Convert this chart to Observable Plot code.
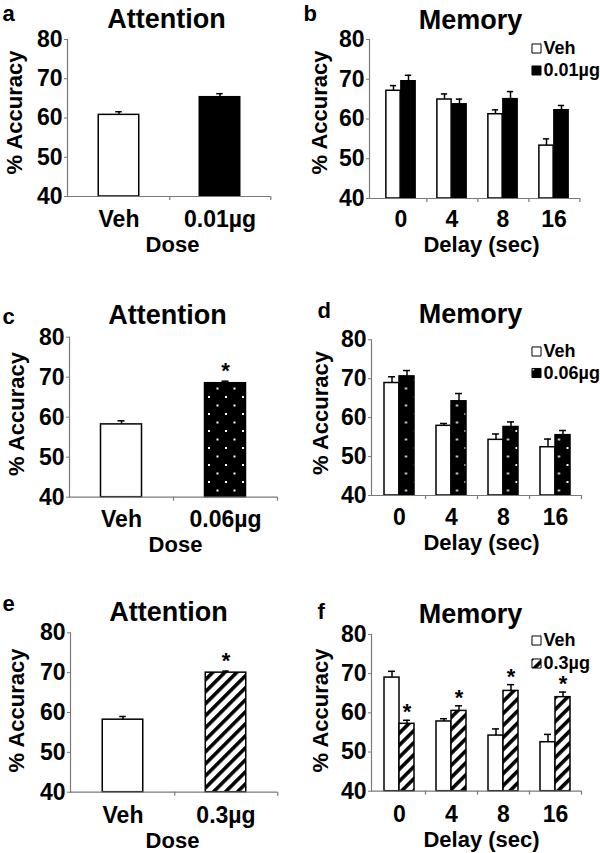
<!DOCTYPE html>
<html><head><meta charset="utf-8">
<script src="https://cdn.jsdelivr.net/npm/d3@7"></script>
<script src="https://cdn.jsdelivr.net/npm/@observablehq/plot@0.6"></script>
<style>
html,body{margin:0;padding:0;background:#fff;}
#fig{position:relative;width:600px;height:853px;overflow:hidden;background:#fff;}
</style></head><body>
<svg width="0" height="0" style="position:absolute">
<defs>
<pattern id="dots" patternUnits="userSpaceOnUse" width="17" height="17">
 <rect width="17" height="17" fill="#000"/>
 <rect x="4" y="4" width="2" height="2" fill="#fff"/>
 <rect x="12.5" y="12.5" width="2" height="2" fill="#fff"/>
</pattern>
<pattern id="hatch" patternUnits="userSpaceOnUse" width="8.5" height="8.5" patternTransform="rotate(45)">
 <rect width="8.5" height="8.5" fill="#fff"/>
 <rect width="3.6" height="8.5" fill="#000"/>
</pattern>
</defs></svg>
<div id="fig"></div>
<script>
// ---------- data ----------
const yDomain = [40, 80];
const yTicks = [40, 50, 60, 70, 80];
const delays = ["0", "4", "8", "16"];

// a: Attention, 0.01µg
const aDoseLabels = ["Veh", "0.01µg"];
const aMeans = [60.8, 65.3];
const aSEM = [0.8, 0.9];
const aSig = [false, false];
// b: Memory, 0.01µg
const bVehMeans = [67.1, 64.9, 61.2, 53.3];
const bVehSEM = [1.3, 1.4, 1.1, 1.7];
const bDoseMeans = [69.5, 63.7, 65.0, 62.2];
const bDoseSEM = [1.5, 1.3, 1.9, 1.2];
const bDoseSig = [false, false, false, false];
// c: Attention, 0.06µg
const cDoseLabels = ["Veh", "0.06µg"];
const cMeans = [58.2, 68.5];
const cSEM = [0.9, 0.5];
const cSig = [false, true];
// d: Memory, 0.06µg
const dVehMeans = [68.9, 57.9, 54.3, 52.4];
const dVehSEM = [1.6, 0.6, 1.5, 2.1];
const dDoseMeans = [70.6, 64.2, 57.6, 55.5];
const dDoseSEM = [1.5, 2.0, 1.3, 1.2];
const dDoseSig = [false, false, false, false];
// e: Attention, 0.3µg
const eDoseLabels = ["Veh", "0.3µg"];
const eMeans = [58.2, 70.0];
const eSEM = [0.8, 0.4];
const eSig = [false, true];
// f: Memory, 0.3µg
const fVehMeans = [69.0, 57.8, 54.2, 52.5];
const fVehSEM = [1.6, 0.7, 1.7, 2.0];
const fDoseMeans = [57.2, 60.5, 65.6, 64.0];
const fDoseSEM = [0.9, 1.3, 1.6, 1.3];
const fDoseSig = [true, true, true, true];

// ---------- layout / style ----------
const FONT = "'Liberation Sans', Arial, Helvetica, sans-serif";
const AXIS = "#7a7a7a";
const TICKFONT = 23;
const fig = document.getElementById("fig");

function place(L, text, x, y, opts = {}) {
  return Plot.text([text], {
    text: d => d, frameAnchor: "top-left",
    dx: x - L.ml, dy: y - L.mt,
    lineAnchor: "bottom", fill: "black", ...opts
  });
}
function commonText(L, title, xlabel) {
  return [
    place(L, title, L.titleX, L.titleY, {fontSize: 27, textAnchor: "middle"}),
    place(L, L.letter, L.letterX, L.letterY, {fontSize: 22, textAnchor: "start"}),
    place(L, "% Accuracy", L.ylabX, L.ylabY, {fontSize: 22, rotate: -90, textAnchor: "middle", lineAnchor: "middle"}),
    place(L, xlabel, L.xlabX, L.xlabY, {fontSize: 22, textAnchor: "middle"})
  ];
}
function axes(L, cats, step) {
  return [
    Plot.ruleY([yDomain[0]], {stroke: AXIS, strokeWidth: 1.2}),
    Plot.frame({anchor: "left", stroke: AXIS, strokeWidth: 1.2}),
    Plot.ruleX(cats, {x: d => d, dx: step / 2, y1: yDomain[0], y2: yDomain[0], insetBottom: -4, stroke: AXIS, strokeWidth: 1.2}),
    Plot.axisY({ticks: yTicks, tickSize: 3, tickPadding: 2, label: null, stroke: AXIS, fill: "black", fontSize: TICKFONT}),
    Plot.axisX({tickSize: 0, tickPadding: L.tickBase - L.fb - 0.71 * TICKFONT, label: null, fill: "black", fontSize: TICKFONT})
  ];
}
function mount(L, svg) {
  svg.style.position = "absolute";
  svg.style.left = L.left + "px";
  svg.style.top = L.top + "px";
  svg.style.overflow = "visible";
  fig.appendChild(svg);
}
const baseStyle = {fontFamily: FONT, fontWeight: "bold", fontSize: "22px", color: "black", background: "transparent"};

function attentionPanel(L, labels, means, sem, sig, fill) {
  const rows = labels.map((c, i) => ({cat: c, mean: means[i], sem: sem[i], sig: sig[i]}));
  const step = (L.fr - L.ml) / labels.length;
  const inset = (step - 41) / 2;
  const cap = step / 2 - 3.5;
  const svg = Plot.plot({
    width: L.w, height: L.h,
    marginLeft: L.ml, marginTop: L.mt, marginRight: L.w - L.fr, marginBottom: L.h - L.fb,
    x: {domain: labels, padding: 0},
    y: {domain: yDomain},
    style: baseStyle,
    marks: [
      Plot.barY(rows, {filter: (d, i) => i === 0, x: "cat", y1: yDomain[0], y2: "mean", fill: "white", stroke: "black", strokeWidth: 1.5, insetLeft: inset, insetRight: inset}),
      Plot.barY(rows, {filter: (d, i) => i > 0, x: "cat", y1: yDomain[0], y2: "mean", fill, stroke: "black", strokeWidth: 1.5, insetLeft: inset, insetRight: inset}),
      Plot.ruleX(rows, {x: "cat", y1: "mean", y2: d => d.mean + d.sem, stroke: "black", strokeWidth: 1.5}),
      Plot.tickY(rows, {x: "cat", y: d => d.mean + d.sem, stroke: "black", strokeWidth: 1.5, insetLeft: cap, insetRight: cap}),
      Plot.text(rows.filter(d => d.sig), {x: "cat", y: d => d.mean + d.sem, text: () => "*", lineAnchor: "bottom", dy: -3, fontSize: 22, fill: "black"}),
      ...axes(L, labels, step),
      ...commonText(L, "Attention", "Dose")
    ]
  });
  mount(L, svg);
}

function memoryPanel(L, vehMeans, vehSEM, doseMeans, doseSEM, doseSig, fill, doseLabel) {
  const veh = delays.map((d, i) => ({delay: d, mean: vehMeans[i], sem: vehSEM[i], sig: false}));
  const dose = delays.map((d, i) => ({delay: d, mean: doseMeans[i], sem: doseSEM[i], sig: doseSig[i]}));
  const step = (L.fr - L.x0) / delays.length;
  const bw = 15;
  const inset = step / 2 - bw / 2;
  const cap = step / 2 - 3.5;
  const series = (rows, dx, f) => [
    Plot.barY(rows, {x: "delay", y1: yDomain[0], y2: "mean", dx, fill: f, stroke: "black", strokeWidth: 1.5, insetLeft: inset, insetRight: inset}),
    Plot.ruleX(rows, {x: "delay", y1: "mean", y2: d => d.mean + d.sem, dx, stroke: "black", strokeWidth: 1.5}),
    Plot.tickY(rows, {x: "delay", y: d => d.mean + d.sem, dx, stroke: "black", strokeWidth: 1.5, insetLeft: cap, insetRight: cap}),
    Plot.text(rows.filter(d => d.sig), {x: "delay", y: d => d.mean + d.sem, dx, text: () => "*", lineAnchor: "bottom", dy: -1, fontSize: 22, fill: "black"})
  ];
  const legend = (y, f, label) => [
    Plot.dot([0], {frameAnchor: "top-left", dx: L.legX - L.ml, dy: y - L.mt, symbol: "square", r: 5.1, fill: f, stroke: "black", strokeWidth: 1}),
    place(L, label, L.legTX, y, {fontSize: 18, textAnchor: "start", lineAnchor: "middle"})
  ];
  const svg = Plot.plot({
    width: L.w, height: L.h,
    marginLeft: L.ml, marginTop: L.mt, marginRight: L.w - L.fr, marginBottom: L.h - L.fb,
    x: {domain: delays, range: [L.x0, L.fr], padding: 0},
    y: {domain: yDomain},
    style: baseStyle,
    marks: [
      ...series(veh, -bw / 2, "white"),
      ...series(dose, bw / 2, fill),
      ...axes(L, delays, step),
      ...legend(L.legY1, "white", "Veh"),
      ...legend(L.legY2, fill, doseLabel),
      ...commonText(L, "Memory", "Delay (sec)")
    ]
  });
  mount(L, svg);
}

const A = {left: 0, top: 0, w: 300, h: 285, ml: 67, mt: 39, fb: 196, fr: 270, titleX: 166, titleY: 27, letter: "a", letterX: 2, letterY: 20, ylabX: 14, ylabY: 112, tickBase: 226, xlabX: 172, xlabY: 251};
const C = {left: 0, top: 290, w: 300, h: 280, ml: 69, mt: 46.7, fb: 206.7, fr: 277, titleX: 167, titleY: 33, letter: "c", letterX: 2, letterY: 33, ylabX: 16, ylabY: 123.5, tickBase: 236, xlabX: 175, xlabY: 261};
const E = {left: 0, top: 570, w: 300, h: 283, ml: 70, mt: 62.3, fb: 221.7, fr: 277, titleX: 168, titleY: 50, letter: "e", letterX: 2, letterY: 40, ylabX: 16.5, ylabY: 140, tickBase: 252, xlabX: 172, xlabY: 277};
const B = {left: 300, top: 0, w: 300, h: 285, ml: 69, mt: 39, fb: 198, fr: 280, x0: 73, titleX: 170, titleY: 28, letter: "b", letterX: 3, letterY: 20, ylabX: 19, ylabY: 112, tickBase: 226, xlabX: 181, xlabY: 251, legX: 236, legTX: 243, legY1: 48, legY2: 70};
const D = {left: 300, top: 290, w: 300, h: 280, ml: 71, mt: 49.3, fb: 205, fr: 281, x0: 73, titleX: 170, titleY: 32, letter: "d", letterX: 17, letterY: 27, ylabX: 20, ylabY: 122.5, tickBase: 234, xlabX: 181, xlabY: 259, legX: 236, legTX: 243, legY1: 61, legY2: 82.5};
const F = {left: 300, top: 570, w: 300, h: 283, ml: 71, mt: 64, fb: 220.7, fr: 281, x0: 73, titleX: 170, titleY: 52, letter: "f", letterX: 17, letterY: 48, ylabX: 20, ylabY: 140, tickBase: 251, xlabX: 181, xlabY: 276, legX: 236, legTX: 243, legY1: 70, legY2: 93};

attentionPanel(A, aDoseLabels, aMeans, aSEM, aSig, "black");
memoryPanel(B, bVehMeans, bVehSEM, bDoseMeans, bDoseSEM, bDoseSig, "black", "0.01µg");
attentionPanel(C, cDoseLabels, cMeans, cSEM, cSig, "url(#dots)");
memoryPanel(D, dVehMeans, dVehSEM, dDoseMeans, dDoseSEM, dDoseSig, "url(#dots)", "0.06µg");
attentionPanel(E, eDoseLabels, eMeans, eSEM, eSig, "url(#hatch)");
memoryPanel(F, fVehMeans, fVehSEM, fDoseMeans, fDoseSEM, fDoseSig, "url(#hatch)", "0.3µg");
</script>
</body></html>
